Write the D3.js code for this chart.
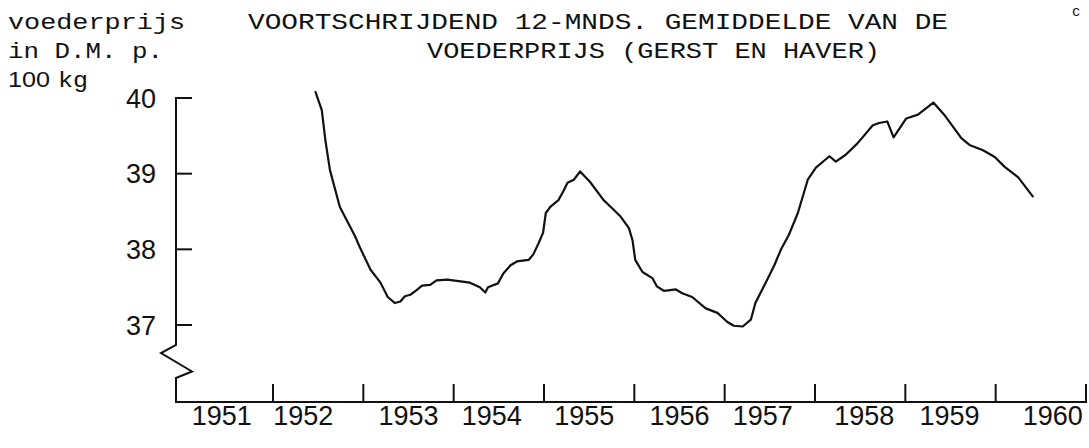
<!DOCTYPE html>
<html>
<head>
<meta charset="utf-8">
<script src="https://cdn.jsdelivr.net/npm/d3@7"></script>
<style>
  html, body { margin: 0; padding: 0; background: #fff; }
  svg { display: block; }
</style>
</head>
<body>
<svg id="chart" width="1089" height="448"></svg>
<script>
// ---- data ----
const years = [1952.47, 1952.54, 1952.58, 1952.63, 1952.74, 1952.91, 1952.96, 1953.08, 1953.19, 1953.27,
  1953.35, 1953.41, 1953.46, 1953.52, 1953.59, 1953.65, 1953.74, 1953.81, 1953.93, 1954.18,
  1954.29, 1954.35, 1954.38, 1954.49, 1954.55, 1954.63, 1954.70, 1954.83, 1954.88, 1954.94,
  1954.99, 1955.02, 1955.07, 1955.16, 1955.22, 1955.26, 1955.33, 1955.40, 1955.51, 1955.66,
  1955.74, 1955.85, 1955.94, 1955.98, 1956.01, 1956.09, 1956.20, 1956.25, 1956.33, 1956.46,
  1956.53, 1956.64, 1956.79, 1956.92, 1957.03, 1957.10, 1957.20, 1957.29, 1957.34, 1957.45,
  1957.55, 1957.62, 1957.71, 1957.81, 1957.92, 1958.01, 1958.16, 1958.23, 1958.34, 1958.47,
  1958.64, 1958.71, 1958.80, 1958.87, 1959.01, 1959.14, 1959.31, 1959.43, 1959.62, 1959.71,
  1959.86, 1959.99, 1960.10, 1960.25, 1960.41];
const prices = [40.08, 39.84, 39.44, 39.05, 38.56, 38.17, 38.03, 37.73, 37.56, 37.37,
  37.29, 37.31, 37.38, 37.40, 37.46, 37.52, 37.53, 37.59, 37.60, 37.56,
  37.50, 37.43, 37.50, 37.55, 37.68, 37.79, 37.84, 37.86, 37.93, 38.08,
  38.22, 38.48, 38.56, 38.65, 38.78, 38.88, 38.92, 39.03, 38.89, 38.65,
  38.56, 38.43, 38.28, 38.12, 37.86, 37.70, 37.62, 37.51, 37.45, 37.47,
  37.42, 37.37, 37.22, 37.16, 37.04, 36.99, 36.98, 37.07, 37.29, 37.55,
  37.79, 37.99, 38.19, 38.48, 38.92, 39.08, 39.23, 39.16, 39.25, 39.40,
  39.64, 39.67, 39.69, 39.48, 39.73, 39.78, 39.94, 39.78, 39.47, 39.38,
  39.31, 39.22, 39.09, 38.95, 38.70];
const yearLabels = ["1951", "1952", "1953", "1954", "1955", "1956", "1957", "1958", "1959", "1960"];
const yearBoundaries = [1952, 1953, 1954, 1955, 1956, 1957, 1958, 1959, 1960, 1961];
const yTicks = [37, 38, 39, 40];
const titleLines = ["VOORTSCHRIJDEND 12-MNDS. GEMIDDELDE VAN DE", "VOEDERPRIJS (GERST EN HAVER)"];
const unitLines = ["voederprijs", "in D.M. p."];
const unitLast = ["100", "kg"];

// ---- layout ----
const svg = d3.select("#chart");
svg.append("rect").attr("width", 1089).attr("height", 448).attr("fill", "#fff");

const x = d3.scaleLinear().domain([1952, 1961]).range([273, 1086]);
const y = d3.scaleLinear().domain([37, 40]).range([325, 98]);
const axisX = 176, baseY = 402;
const ink = "#111";
const mono = "'Liberation Mono', 'DejaVu Sans Mono', monospace";
const sans = "'Liberation Sans', Arial, sans-serif";

// typewritten title
const titleX = [248, 427], rowY = [29, 57.5], titleW = [700, 453];
titleLines.forEach((t, i) => {
  svg.append("text").attr("x", titleX[i]).attr("y", rowY[i])
    .attr("textLength", titleW[i]).attr("lengthAdjust", "spacingAndGlyphs")
    .attr("font-family", mono).attr("font-size", 22).attr("fill", ink).text(t);
});
// unit label (typed on the same rows as the title)
const unitW = [177, 155];
unitLines.forEach((t, i) => {
  svg.append("text").attr("x", 8).attr("y", rowY[i])
    .attr("textLength", unitW[i]).attr("lengthAdjust", "spacingAndGlyphs")
    .attr("font-family", mono).attr("font-size", 22).attr("fill", ink).text(t);
});
svg.append("text").attr("x", 8).attr("y", 87).attr("textLength", 42).attr("lengthAdjust", "spacingAndGlyphs")
  .attr("font-family", sans).attr("font-size", 22).attr("fill", ink).text(unitLast[0]);
svg.append("text").attr("x", 58).attr("y", 87).attr("textLength", 30).attr("lengthAdjust", "spacingAndGlyphs")
  .attr("font-family", mono).attr("font-size", 22).attr("fill", ink).text(unitLast[1]);
// page fragment in corner
svg.append("text").attr("x", 1072).attr("y", 16).attr("font-family", mono).attr("font-size", 14)
  .attr("fill", ink).text("c");

// y axis with break
const axisG = svg.append("g").attr("fill", "none").attr("stroke", ink).attr("stroke-width", 2)
  .attr("stroke-linejoin", "miter").attr("stroke-linecap", "square");
const yTop = y(d3.max(yTicks));
axisG.append("path").attr("d", d3.line()([
  [axisX, yTop], [axisX, 345], [axisX - 15, 353], [axisX + 16, 371.5], [axisX, 378], [axisX, baseY], [x(1961), baseY]
]));
axisG.selectAll("line.yt").data(yTicks).join("line").attr("class", "yt")
  .attr("x1", axisX).attr("x2", axisX + 15).attr("y1", d => y(d)).attr("y2", d => y(d));
axisG.selectAll("line.xt").data(yearBoundaries).join("line").attr("class", "xt")
  .attr("x1", d => x(d)).attr("x2", d => x(d)).attr("y1", baseY).attr("y2", baseY - 17);

// y tick labels
svg.selectAll("text.yl").data(yTicks).join("text").attr("class", "yl")
  .attr("x", 156).attr("y", d => y(d) + 9.5).attr("text-anchor", "end")
  .attr("font-family", sans).attr("font-size", 27).attr("fill", ink).text(d => d);

// x year labels (centred in each year interval, with the typist's small offsets)
const labelShift = [-6, -15, 0, -7, -5, 0, -7, 4, -1, 12];
svg.selectAll("text.xl").data(yearLabels).join("text").attr("class", "xl")
  .attr("x", (d, i) => x(+d + 0.5) + labelShift[i]).attr("y", 425).attr("text-anchor", "middle")
  .attr("font-family", sans).attr("font-size", 27).attr("fill", ink).text(d => d);

// the curve
const pts = years.map((t, i) => [t, prices[i]]);
svg.append("path").datum(pts)
  .attr("fill", "none").attr("stroke", ink).attr("stroke-width", 2.2)
  .attr("stroke-linejoin", "round").attr("stroke-linecap", "round")
  .attr("d", d3.line().x(d => x(d[0])).y(d => y(d[1])));
</script>
</body>
</html>
